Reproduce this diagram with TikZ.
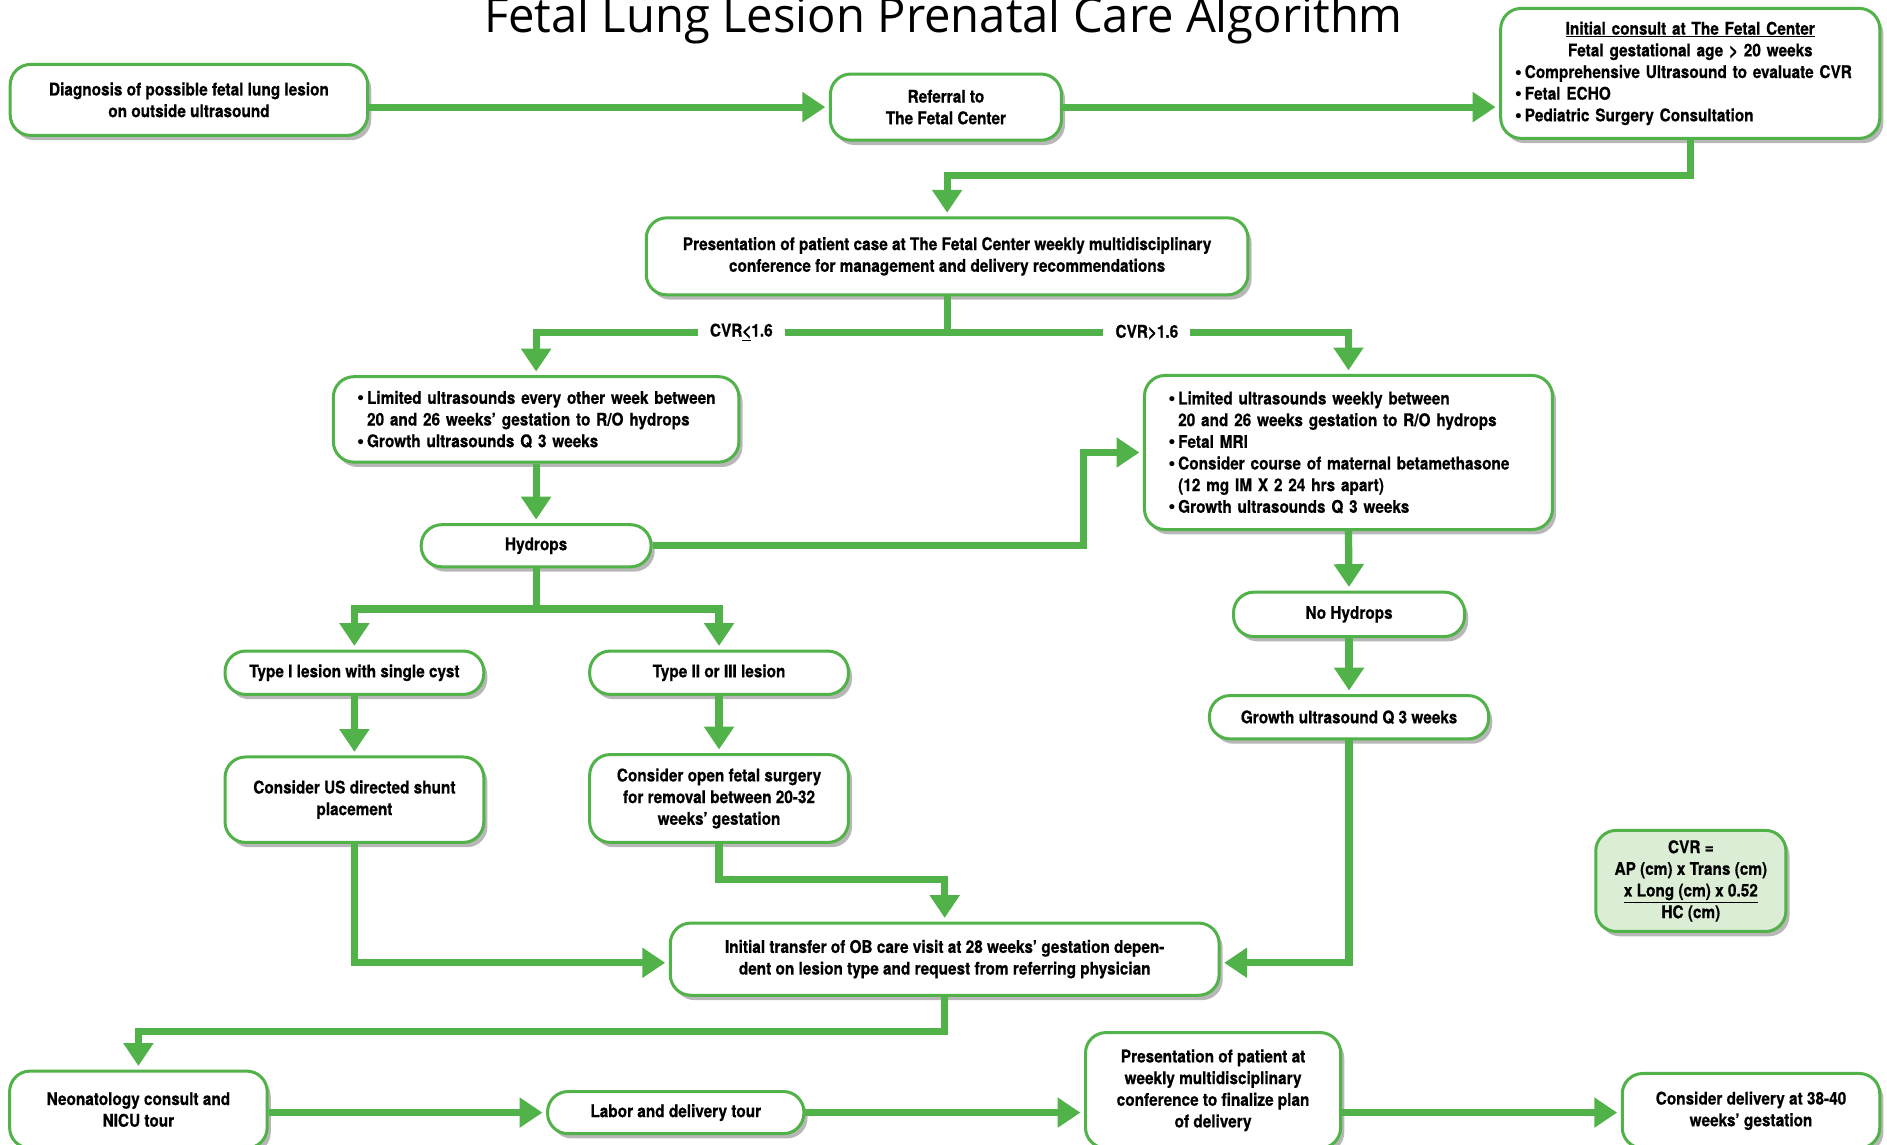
\documentclass[tikz,border=0pt]{standalone}
\usepackage{fontspec}
\setmainfont{TeX Gyre Heros}[FakeStretch=0.88,BoldFeatures={FakeBold=0.6}]
\newfontfamily\titlefont{Open Sans}[FakeStretch=0.98]
\newfontfamily\bulfont{DejaVu Sans}
\usetikzlibrary{arrows.meta,shadows}
\definecolor{fgreen}{RGB}{80,178,72}
\definecolor{cvrfill}{RGB}{220,237,213}
\newcommand{\bul}{\makebox[9pt][l]{{\bulfont\bfseries\fontsize{12}{18}\selectfont •}}}
\newcommand{\ind}{\hspace*{9pt}}
\begin{document}
\begin{tikzpicture}[x=1pt,y=-1pt,
  box/.style={draw=fgreen,line width=2.5pt,rounded corners=17pt,fill=white,align=center,inner sep=0pt,
    font=\fontsize{14.5}{18}\selectfont\bfseries,
    drop shadow={shadow xshift=3pt,shadow yshift=-4pt,opacity=0.4,fill=black!70}},
  conn/.style={draw=fgreen,line width=6pt},
  arr/.style={conn,-{Triangle[length=19pt,width=24pt]},shorten >=3pt},
  lbl/.style={fill=white,inner xsep=10pt,inner ysep=2pt,font=\fontsize{14.5}{18}\selectfont\bfseries}]
\useasboundingbox (0,0) rectangle (1568,951);
\clip (0,0) rectangle (1568,951);

\node[font=\titlefont\fontsize{40}{40}\selectfont,anchor=base] (title) at (784,27) {Fetal Lung Lesion Prenatal Care Algorithm};

\node[box,minimum width=297pt,minimum height=59pt] (diag) at (157,83) {Diagnosis of possible fetal lung lesion\\on outside ultrasound};
\node[box,minimum width=192pt,minimum height=55pt] (ref) at (786,89) {Referral to\\The Fetal Center};
\node[box,minimum width=315pt,minimum height=108pt,text width=293pt,align=left] (init) at (1404.5,61)
 {\centering\underline{Initial consult at The Fetal Center}\\Fetal gestational age > 20 weeks\par
  \raggedright\bul Comprehensive Ultrasound to evaluate CVR\\\bul Fetal ECHO\\\bul Pediatric Surgery Consultation\par};
\node[box,minimum width=500pt,minimum height=64pt] (pres) at (787,213) {Presentation of patient case at The Fetal Center weekly multidisciplinary\\conference for management and delivery recommendations};
\node[box,minimum width=337pt,minimum height=71pt,text width=299pt,align=left] (lim1) at (445.5,348.5)
 {\bul Limited ultrasounds every other week between\\\ind 20 and 26 weeks’ gestation to R/O hydrops\\\bul Growth ultrasounds Q 3 weeks};
\node[box,minimum width=339pt,minimum height=128pt,text width=301pt,align=left] (lim2) at (1120.5,376)
 {\bul Limited ultrasounds weekly between\\\ind 20 and 26 weeks gestation to R/O hydrops\\\bul Fetal MRI\\\bul Consider course of maternal betamethasone\\\ind (12 mg IM X 2 24 hrs apart)\\\bul Growth ultrasounds Q 3 weeks};
\node[box,minimum width=191pt,minimum height=35pt] (hyd) at (445.5,453.5) {Hydrops};
\node[box,minimum width=215pt,minimum height=36pt] (t1) at (294.5,559) {Type I lesion with single cyst};
\node[box,minimum width=215pt,minimum height=36pt] (t2) at (597.5,559) {Type II or III lesion};
\node[box,minimum width=215pt,minimum height=71pt] (sh) at (294.5,664.5) {Consider US directed shunt\\placement};
\node[box,minimum width=215pt,minimum height=73pt] (op) at (597.5,663.5) {Consider open fetal surgery\\for removal between 20-32\\weeks’ gestation};
\node[box,minimum width=192pt,minimum height=37pt] (noh) at (1121,510.5) {No Hydrops};
\node[box,minimum width=232pt,minimum height=36pt] (gr) at (1121,596) {Growth ultrasound Q 3 weeks};
\node[box,minimum width=456pt,minimum height=60pt] (tr) at (785,797) {Initial transfer of OB care visit at 28 weeks’ gestation depen-\\dent on lesion type and request from referring physician};
\node[box,fill=cvrfill,minimum width=158pt,minimum height=84pt] (cvr) at (1405,732) {CVR =\\AP (cm) x Trans (cm)\\\underline{x Long (cm) x 0.52}\\HC (cm)};
\node[box,minimum width=214pt,minimum height=64pt] (neo) at (115,922) {Neonatology consult and\\NICU tour};
\node[box,minimum width=213pt,minimum height=35pt] (lab) at (561.5,924.5) {Labor and delivery tour};
\node[box,minimum width=212pt,minimum height=96pt] (pp) at (1008,906) {Presentation of patient at\\weekly multidisciplinary\\conference to finalize plan\\of delivery};
\node[box,minimum width=214pt,minimum height=62pt] (cd) at (1455,923) {Consider delivery at 38-40\\weeks’ gestation};

% connectors
\draw[arr] (diag.east |- ref.west) -- (ref.west);
\draw[arr] (ref.east) -- (init.west |- ref.east);
\draw[arr] (init.south) |- (pres.north |- 0,146) -- (pres.north);
\draw[arr] (pres.south) |- (lim1.north |- 0,276) -- (lim1.north);
\draw[arr] (pres.south) |- (lim2.north |- 0,276) -- (lim2.north);
\node[lbl] (l1) at (616,276) {CVR\underline{<}1.6};
\node[lbl] (l2) at (953,276) {CVR>1.6};
\draw[arr] (lim1.south) -- (hyd.north);
\draw[arr] (hyd.east) -- (hyd.east -| 900,0) |- (lim2.west);
\draw[arr] (hyd.south) |- (t1.north |- 0,506) -- (t1.north);
\draw[arr] (hyd.south) |- (t2.north |- 0,506) -- (t2.north);
\draw[arr] (t1.south) -- (sh.north);
\draw[arr] (t2.south) -- (op.north);
\draw[arr] (sh.south) |- (tr.west |- 0,800);
\draw[arr] (op.south) |- (tr.north |- 0,731) -- (tr.north);
\draw[arr] (lim2.south) -- (noh.north);
\draw[arr] (noh.south) -- (gr.north);
\draw[arr] (gr.south) |- (tr.east |- 0,800);
\draw[arr] (tr.south) |- (neo.north |- 0,857) -- (neo.north);
\draw[arr] (neo.east |- lab.west) -- (lab.west);
\draw[arr] (lab.east) -- (pp.west |- lab.east);
\draw[arr] (pp.east |- lab.east) -- (cd.west |- lab.east);
\end{tikzpicture}
\end{document}
